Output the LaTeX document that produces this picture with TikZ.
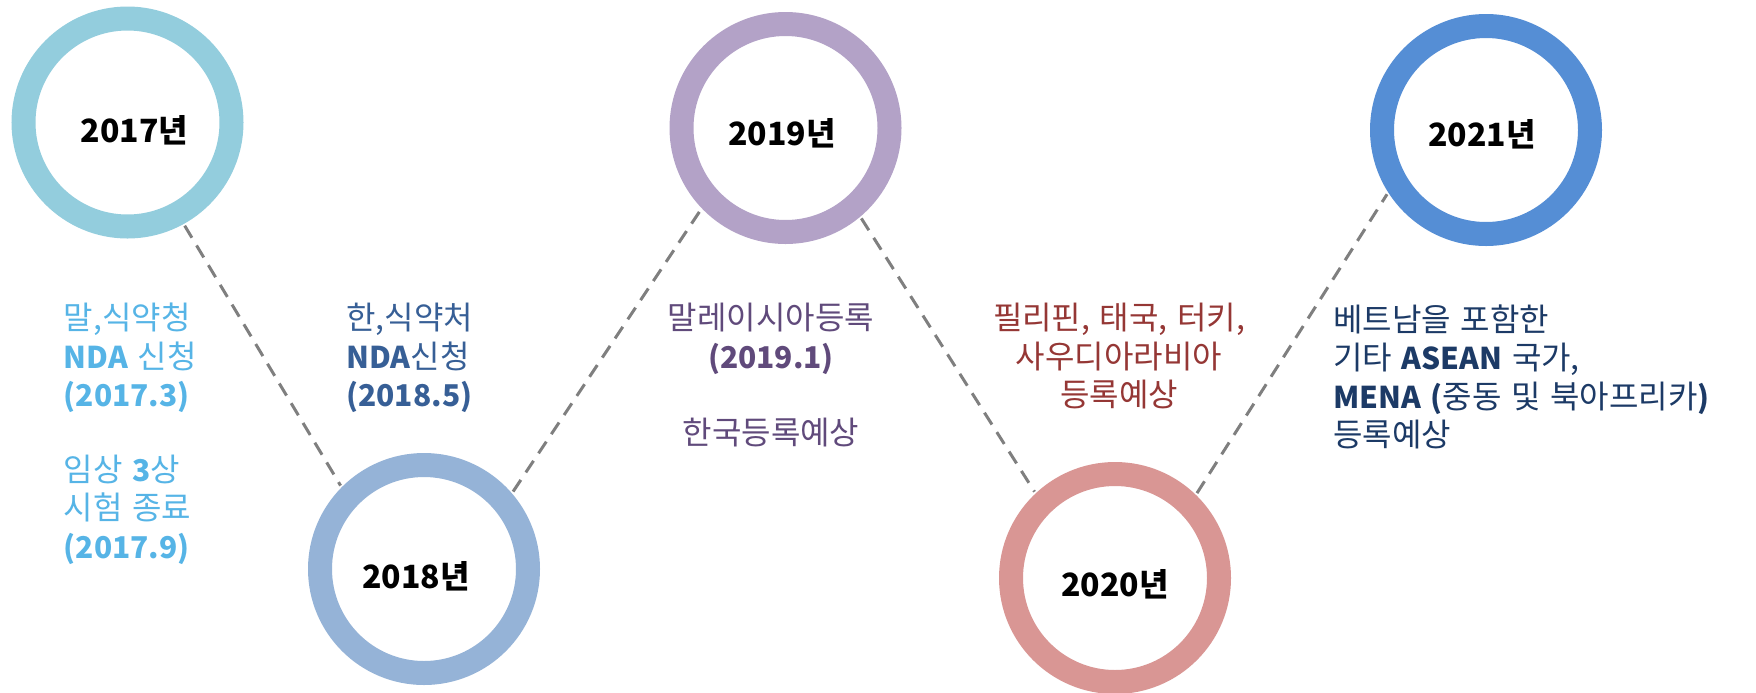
\documentclass[tikz,border=0pt]{standalone}
\usepackage{fontspec}
\setmainfont{Noto Sans CJK KR}
\definecolor{ringA}{HTML}{93CDDD}
\definecolor{ringB}{HTML}{95B3D7}
\definecolor{ringC}{HTML}{B3A2C7}
\definecolor{ringD}{HTML}{D99694}
\definecolor{ringE}{HTML}{558ED5}
\definecolor{txtA}{HTML}{56B4E6}
\definecolor{txtB}{HTML}{375F96}
\definecolor{txtC}{HTML}{604A7B}
\definecolor{txtD}{HTML}{953735}
\definecolor{txtE}{HTML}{1C3A66}
\definecolor{dashgray}{HTML}{7F7F7F}
\newcommand{\bodyfont}{\fontsize{16}{19.3}\selectfont\spaceskip=0.3em\relax}
\newcommand{\lb}[1]{{\fontsize{15}{19.3}\selectfont\bfseries #1}}
\begin{document}
\begin{tikzpicture}[x=0.5pt,y=-0.5pt]
\tikzset{
  ring/.style={circle,draw=#1,line width=12pt,minimum size=104pt,inner sep=0pt,outer sep=7pt,fill=white},
  link/.style={draw=dashgray,line width=1.5pt,dash pattern=on 7pt off 4.5pt},
  year/.style={font=\fontsize{16}{20}\selectfont\bfseries,anchor=base,inner sep=0pt,text=black},
  txt/.style={font=\bodyfont,inner sep=0pt,text=#1}
}
\useasboundingbox (0,0) rectangle (1756,692);
% rings
\node[ring=ringA] (c17) at (127.5,122.5) {};
\node[ring=ringB] (c18) at (424,569) {};
\node[ring=ringC] (c19) at (785.5,128) {};
\node[ring=ringD] (c20) at (1115,578) {};
\node[ring=ringE] (c21) at (1486,130) {};
% year labels
\node[year] (y17) at (134.6,142) {2017년};
\node[year] (y18) at (416,588) {2018년};
\node[year] (y19) at (782,145) {2019년};
\node[year] (y20) at (1115,596.7) {2020년};
\node[year] (y21) at (1482,146.7) {2021년};
% connectors
\draw[link] (c17.-61) -- (c18.135);
\draw[link] (c18.41) -- (c19.224.5);
\draw[link] (c19.-50.4) -- (c20.133.4);
\draw[link] (c20.46.6) -- (c21.213);
% texts
\node[txt=txtA,anchor=base west] (t17a) at (63.5,329.5)
  {\begin{tabular}[t]{@{}l@{}}말,식약청\\\lb{NDA} 신청\\\lb{(2017.3)}\end{tabular}};
\node[txt=txtA,anchor=base west] (t17b) at (63.5,481)
  {\begin{tabular}[t]{@{}l@{}}임상 \lb{3}상\\시험 종료\\\lb{(2017.9)}\end{tabular}};
\node[txt=txtB,anchor=base west] (t18) at (346,329.5)
  {\begin{tabular}[t]{@{}l@{}}한,식약처\\\lb{NDA}신청\\\lb{(2018.5)}\end{tabular}};
\node[txt=txtC,anchor=base] (t19a) at (771,329.5)
  {\begin{tabular}[t]{@{}c@{}}말레이시아등록\\\lb{(2019.1)}\end{tabular}};
\node[txt=txtC,anchor=base] (t19b) at (771,444.5) {한국등록예상};
\node[txt=txtD,anchor=base] (t20) at (1119,329.5)
  {\begin{tabular}[t]{@{}c@{}}필리핀, 태국, 터키,\\사우디아라비아\\등록예상\end{tabular}};
\node[txt=txtE,anchor=base west] (t21) at (1333,331)
  {\begin{tabular}[t]{@{}l@{}}베트남을 포함한\\기타 \lb{ASEAN} 국가,\\\lb{MENA (}중동 및 북아프리카\lb{)}\\등록예상\end{tabular}};
\end{tikzpicture}
\end{document}
